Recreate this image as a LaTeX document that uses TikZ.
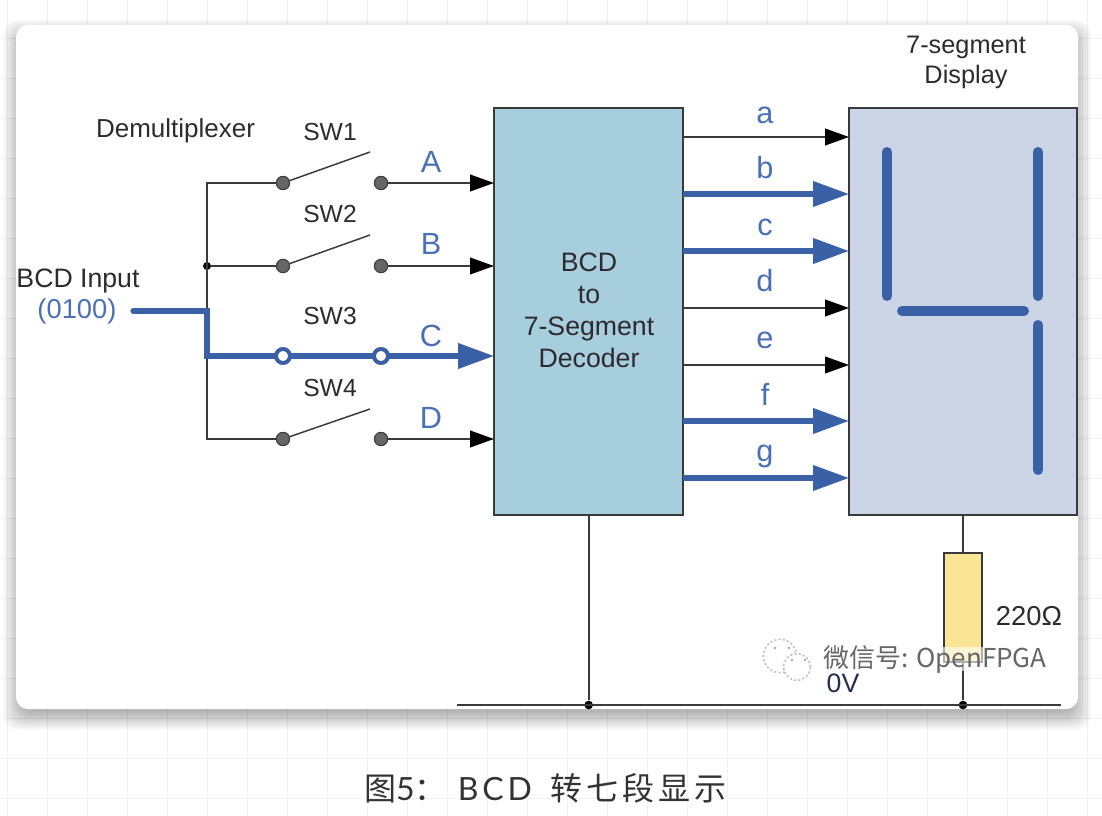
\documentclass[tikz,border=0pt]{standalone}
\usepackage{fontspec}
\setmainfont{Liberation Sans}
\newfontfamily\cjk[LetterSpace=12]{Noto Sans CJK SC}
\newfontfamily\capltn[LetterSpace=12]{Lato}
\newfontfamily\cjkwm{Noto Sans CJK SC}
\usetikzlibrary{arrows.meta}
\definecolor{wire}{HTML}{3A3A3A}
\definecolor{sigblue}{HTML}{3A60A6}
\definecolor{lblblue}{HTML}{4A70B8}
\definecolor{labeltxt}{HTML}{2E2A30}
\definecolor{gndtxt}{HTML}{23304F}
\definecolor{decfill}{HTML}{A6CEDC}
\definecolor{dispfill}{HTML}{CBD5E5}
\definecolor{resfill}{HTML}{FAE597}
\definecolor{gridc}{HTML}{F1F1F1}
\tikzset{
  x=0.75pt,y=-0.75pt,
  lbl/.style={font=\fontsize{18.5}{20}\selectfont,text=labeltxt,inner sep=0pt,anchor=center},
  sig/.style={font=\fontsize{23}{25}\selectfont,text=lblblue,inner sep=0pt,anchor=center},
  boxnode/.style={draw=wire,line width=1.5pt,inner sep=0pt,outer sep=0pt,anchor=north west},
  term/.style={circle,draw=wire,fill=gray!80!black,line width=0.8pt,minimum size=10pt,inner sep=0pt},
  termon/.style={circle,draw=sigblue,fill=white,line width=3pt,minimum size=10.5pt,inner sep=0pt},
  dotnode/.style={circle,fill=black,minimum size=6pt,inner sep=0pt},
  thinw/.style={draw=wire,line width=1.5pt},
  thickw/.style={draw=sigblue,line width=3.8pt},
  thinarrow/.style={thinw,-{Triangle[length=18pt,width=12.5pt,fill=black,color=black]}},
  thickarrow/.style={thickw,-{Triangle[length=27pt,width=18.5pt]}},
  seg/.style={draw=sigblue,line width=7.5pt,line cap=round},
}
\begin{document}
\begin{tikzpicture}
\useasboundingbox (0,0) rectangle (1102,816);
\fill[white] (0,0) rectangle (1102,816);
% page grid
\foreach \gx in {7,47,...,1102} \draw[gridc,line width=0.6pt] (\gx+.7,0) -- (\gx+.7,816);
\foreach \gy in {38,78,...,816} \draw[gridc,line width=0.6pt] (0,\gy) -- (1102,\gy);
% soft card shadow, built from stacked translucent layers
\foreach \s in {13,12,...,-14}
  \fill[black,opacity=0.017,rounded corners=10pt] (16-\s,25-\s+8) rectangle (1078+\s,709+\s+8);
\fill[white,rounded corners=9pt] (16,25) rectangle (1078,709);

% blocks
\node[boxnode,fill=decfill,minimum width=142pt,minimum height=305.5pt] (dec) at (494,108) {};
\node[boxnode,fill=dispfill,minimum width=171pt,minimum height=305.5pt] (disp) at (849,108) {};
\node[boxnode,fill=resfill,minimum width=28.5pt,minimum height=82pt] (res) at (944,553) {};
\node[font=\fontsize{20}{24}\selectfont,text=labeltxt,align=center,inner sep=0pt] (dectxt) at (589,310)
  {BCD\\[0.0pt]to\\[0.0pt]7-Segment\\[0.0pt]Decoder};

% display segments lit for the digit 4
\draw[seg] (887,152) -- (887,296);
\draw[seg] (1038,152) -- (1038,296);
\draw[seg] (902,311) -- (1024,311);
\draw[seg] (1038,325) -- (1038,470);

% helper points
\coordinate (src) at (133,311);
\coordinate (tp) at (207,183);
\coordinate (bt) at (207,439);
\coordinate (kneeA) at (207,311);
\coordinate (kneeB) at (207,356);
\coordinate (gl) at (457,705);
\coordinate (gr) at (1061,705);
\coordinate (bA) at (370,152);
\coordinate (bB) at (370,235);
\coordinate (bD) at (370,409);

% switch terminals
\node[term] (a1) at (283,183) {};
\node[term] (a2) at (381,183) {};
\node[term] (b1) at (283,266) {};
\node[term] (b2) at (381,266) {};
\node[term] (d1) at (283,439) {};
\node[term] (d2) at (381,439) {};
\node[dotnode,minimum size=6pt] (j) at (207,266) {};

% input bus and inactive switch lines
\draw[thinw] (a1) -- (tp) -- (bt) -- (d1);
\draw[thinw] (j) -- (b1);
\draw[thinw,line width=1.1pt] (a1) -- (bA);
\draw[thinw,line width=1.1pt] (b1) -- (bB);
\draw[thinw,line width=1.1pt] (d1) -- (bD);
\draw[thinarrow] (a2) -- (dec.west |- a2);
\draw[thinarrow] (b2) -- (dec.west |- b2);
\draw[thinarrow] (d2) -- (dec.west |- d2);

% active path through SW3
\coordinate (cEnd) at (dec.west |- kneeB);
\draw[thickw,line cap=round,-{Triangle[length=27pt,width=18.5pt]},line join=miter] (src) -- (kneeA) -- (kneeB) -- (cEnd);
\node[termon] (c1) at (283,356) {};
\node[termon] (c2) at (381,356) {};

% decoder outputs
\foreach \nm/\yy in {oa/137,ob/194,oc/251,od/308,oe/365,of/421,og/478}
  \coordinate (\nm) at (683,\yy);
\draw[thinarrow] (oa) -- (disp.west |- oa);
\draw[thickarrow] (ob) -- (disp.west |- ob);
\draw[thickarrow] (oc) -- (disp.west |- oc);
\draw[thinarrow] (od) -- (disp.west |- od);
\draw[thinarrow] (oe) -- (disp.west |- oe);
\draw[thickarrow] (of) -- (disp.west |- of);
\draw[thickarrow] (og) -- (disp.west |- og);

% ground rail
\node[dotnode,minimum size=6.5pt] (j1) at (dec.south |- gl) {};
\node[dotnode,minimum size=6.5pt] (j2) at (res.south |- gl) {};
\draw[thinw] (gl) -- (gr);
\draw[thinw] (dec.south) -- (j1);
\draw[thinw] (res.north |- disp.south) -- (res.north);
\draw[thinw] (res.south) -- (j2);

% labels
\node[lbl,font=\fontsize{19.5}{22}\selectfont] (tdm) at (175.5,131) {Demultiplexer};
\node[lbl] (t1) at (330,132) {SW1};
\node[lbl] (t2) at (330,214) {SW2};
\node[lbl] (t3) at (330,316) {SW3};
\node[lbl] (t4) at (330,388) {SW4};
\node[lbl,font=\fontsize{20}{22}\selectfont] (tin) at (78,281) {BCD Input};
\node[lbl,font=\fontsize{20.5}{22}\selectfont,text=lblblue] (tval) at (77,311) {(0100)};
\node[sig] (la) at (431,162) {A};
\node[sig] (lb) at (431,244) {B};
\node[sig] (lc) at (431,336) {C};
\node[sig] (ld) at (431,418) {D};
\node[sig] (sa) at (765,115) {a};
\node[sig] (sb) at (765,168) {b};
\node[sig] (sc) at (765,227) {c};
\node[sig] (sd) at (765,281) {d};
\node[sig] (se) at (765,340) {e};
\node[sig] (sf) at (765,394) {f};
\node[sig] (sg) at (765,456) {g};
\node[lbl,font=\fontsize{19}{22}\selectfont] (td1) at (966,47) {7-segment};
\node[lbl,font=\fontsize{19}{22}\selectfont] (td2) at (966,77) {Display};
\node[lbl,font=\fontsize{20.5}{22}\selectfont] (tr) at (1029,616) {220Ω};
\node[lbl,font=\fontsize{20}{22}\selectfont,text=gndtxt] (tgnd) at (843,683) {0V};

% watermark
\fill[white,opacity=0.6] (824,647) rectangle (1046,671);
\draw[gray!50,line width=1.2pt,dash pattern=on 1.6pt off 1.6pt] (780,656) circle[radius=12.5pt];
\draw[fill=white,draw=gray!50,line width=1.2pt,dash pattern=on 1.6pt off 1.6pt] (797,667) circle[radius=10pt];
\foreach \ex/\ey in {775/648,789/648,792/660,805/660}
  \fill[gray!70] (\ex,\ey) circle[radius=1pt];
\node[inner sep=0pt,text=gray!80!black,font=\cjkwm\fontsize{19.5}{22}\selectfont] (wm) at (935,660) {微信号: OpenFPGA};

% caption
\node[inner sep=0pt,text=black!80,font=\cjk\fontsize{24}{26}\selectfont] (cap) at (545,788)
  {图{\capltn 5}：\hspace{8.5pt}{\capltn BCD}\hspace{14pt}转七段显示};
\end{tikzpicture}
\end{document}
